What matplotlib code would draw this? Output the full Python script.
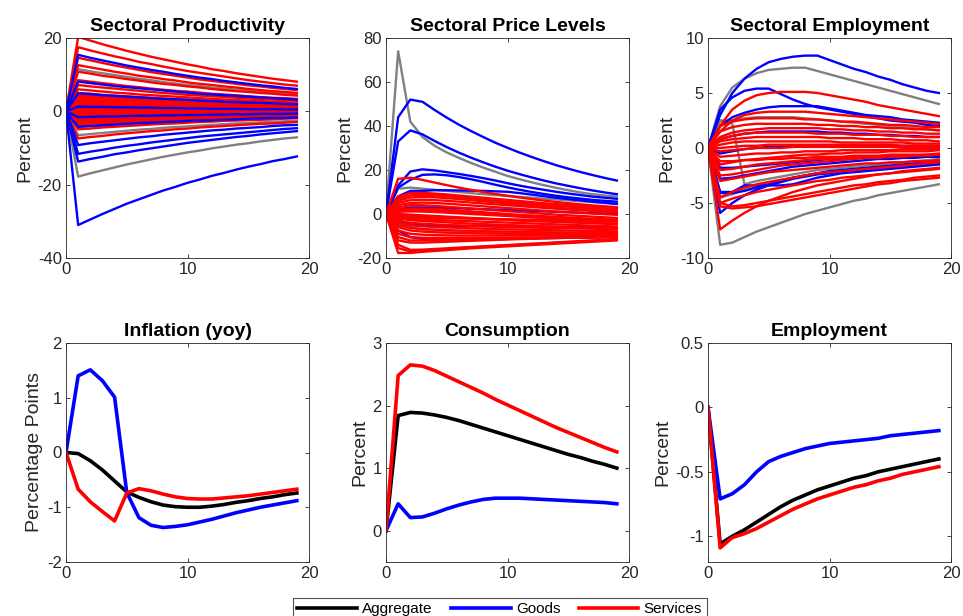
import numpy as np
import matplotlib
matplotlib.use("Agg")
import matplotlib.pyplot as plt
from matplotlib.ticker import FormatStrFormatter

plt.rcParams['font.family'] = ['Liberation Sans', 'DejaVu Sans']
plt.rcParams['axes.unicode_minus'] = False

# horizon (quarters after shock)
t = np.arange(20)

# ---------------- top row: sectoral responses ----------------
prod_gray = [
    [0, 11.5, 10.9, 10.4, 9.9, 9.4, 8.9, 8.5, 8.0, 7.6, 7.2, 6.9, 6.5, 6.2, 5.9, 5.6, 5.3, 5.1, 4.8, 4.6],
    [0, 3.0, 2.9, 2.7, 2.6, 2.4, 2.3, 2.2, 2.1, 2.0, 1.9, 1.8, 1.7, 1.6, 1.5, 1.5, 1.4, 1.3, 1.3, 1.2],
    [0, -6.5, -6.2, -5.9, -5.6, -5.3, -5.0, -4.8, -4.5, -4.3, -4.1, -3.9, -3.7, -3.5, -3.3, -3.2, -3.0, -2.9, -2.7, -2.6],
    [0, -17.8, -16.9, -16.1, -15.3, -14.5, -13.8, -13.1, -12.4, -11.8, -11.2, -10.7, -10.1, -9.6, -9.1, -8.7, -8.2, -7.8, -7.4, -7.1],
]
prod_goods = [
    [0, 15.4, 14.6, 13.9, 13.2, 12.5, 11.9, 11.3, 10.8, 10.2, 9.7, 9.2, 8.8, 8.3, 7.9, 7.5, 7.1, 6.8, 6.4, 6.1],
    [0, 8.1, 7.7, 7.3, 6.9, 6.6, 6.3, 6.0, 5.7, 5.4, 5.1, 4.8, 4.6, 4.4, 4.2, 4.0, 3.8, 3.6, 3.4, 3.2],
    [0, 4.9, 4.7, 4.4, 4.2, 4.0, 3.8, 3.6, 3.4, 3.3, 3.1, 2.9, 2.8, 2.6, 2.5, 2.4, 2.3, 2.2, 2.0, 1.9],
    [0, 1.3, 1.2, 1.2, 1.1, 1.1, 1.0, 1.0, 0.9, 0.9, 0.8, 0.8, 0.7, 0.7, 0.7, 0.6, 0.6, 0.6, 0.5, 0.5],
    [0, -1.6, -1.5, -1.4, -1.4, -1.3, -1.2, -1.2, -1.1, -1.1, -1.0, -1.0, -0.9, -0.9, -0.8, -0.8, -0.7, -0.7, -0.7, -0.6],
    [0, -4.2, -4.0, -3.8, -3.6, -3.4, -3.2, -3.1, -2.9, -2.8, -2.6, -2.5, -2.4, -2.3, -2.2, -2.0, -1.9, -1.8, -1.8, -1.7],
    [0, -9.2, -8.7, -8.3, -7.9, -7.5, -7.1, -6.8, -6.4, -6.1, -5.8, -5.5, -5.2, -5.0, -4.7, -4.5, -4.3, -4.0, -3.8, -3.7],
    [0, -11.6, -11.0, -10.5, -9.9, -9.4, -9.0, -8.5, -8.1, -7.7, -7.3, -6.9, -6.6, -6.3, -6.0, -5.7, -5.4, -5.1, -4.8, -4.6],
    [0, -13.7, -13.0, -12.4, -11.7, -11.2, -10.6, -10.1, -9.6, -9.1, -8.6, -8.2, -7.8, -7.4, -7.0, -6.7, -6.3, -6.0, -5.7, -5.4],
    [0, -31.0, -29.5, -28.0, -26.6, -25.2, -24.0, -22.8, -21.6, -20.6, -19.5, -18.6, -17.6, -16.8, -15.9, -15.1, -14.4, -13.6, -13.0, -12.3],
]
prod_services = [
    [0, 20.3, 19.3, 18.3, 17.4, 16.5, 15.7, 14.9, 14.2, 13.5, 12.8, 12.2, 11.5, 11.0, 10.4, 9.9, 9.4, 8.9, 8.5, 8.1],
    [0, 17.5, 16.6, 15.8, 15.0, 14.3, 13.5, 12.9, 12.2, 11.6, 11.0, 10.5, 10.0, 9.5, 9.0, 8.5, 8.1, 7.7, 7.3, 7.0],
    [0, 14.6, 13.9, 13.2, 12.5, 11.9, 11.3, 10.7, 10.2, 9.7, 9.2, 8.7, 8.3, 7.9, 7.5, 7.1, 6.8, 6.4, 6.1, 5.8],
    [0, 12.6, 12.0, 11.4, 10.8, 10.3, 9.7, 9.3, 8.8, 8.4, 7.9, 7.5, 7.2, 6.8, 6.5, 6.1, 5.8, 5.5, 5.3, 5.0],
    [0, 10.8, 10.3, 9.7, 9.3, 8.8, 8.4, 7.9, 7.5, 7.2, 6.8, 6.5, 6.1, 5.8, 5.5, 5.3, 5.0, 4.8, 4.5, 4.3],
    [0, 8.5, 8.1, 7.7, 7.3, 6.9, 6.6, 6.2, 5.9, 5.6, 5.4, 5.1, 4.8, 4.6, 4.4, 4.1, 3.9, 3.7, 3.6, 3.4],
    [0, 7.2, 6.8, 6.5, 6.2, 5.9, 5.6, 5.3, 5.0, 4.8, 4.5, 4.3, 4.1, 3.9, 3.7, 3.5, 3.3, 3.2, 3.0, 2.9],
    [0, 6.0, 5.7, 5.4, 5.1, 4.9, 4.6, 4.4, 4.2, 4.0, 3.8, 3.6, 3.4, 3.2, 3.1, 2.9, 2.8, 2.6, 2.5, 2.4],
    [0, 5.0, 4.8, 4.5, 4.3, 4.1, 3.9, 3.7, 3.5, 3.3, 3.2, 3.0, 2.8, 2.7, 2.6, 2.4, 2.3, 2.2, 2.1, 2.0],
    [0, 4.6, 4.4, 4.2, 3.9, 3.7, 3.6, 3.4, 3.2, 3.1, 2.9, 2.8, 2.6, 2.5, 2.4, 2.2, 2.1, 2.0, 1.9, 1.8],
    [0, 4.2, 4.0, 3.8, 3.6, 3.4, 3.2, 3.1, 2.9, 2.8, 2.6, 2.5, 2.4, 2.3, 2.2, 2.0, 1.9, 1.8, 1.8, 1.7],
    [0, 3.8, 3.6, 3.4, 3.3, 3.1, 2.9, 2.8, 2.7, 2.5, 2.4, 2.3, 2.2, 2.1, 2.0, 1.9, 1.8, 1.7, 1.6, 1.5],
    [0, 3.4, 3.2, 3.1, 2.9, 2.8, 2.6, 2.5, 2.4, 2.3, 2.1, 2.0, 1.9, 1.8, 1.7, 1.7, 1.6, 1.5, 1.4, 1.4],
    [0, 3.0, 2.9, 2.7, 2.6, 2.4, 2.3, 2.2, 2.1, 2.0, 1.9, 1.8, 1.7, 1.6, 1.5, 1.5, 1.4, 1.3, 1.3, 1.2],
    [0, 2.6, 2.5, 2.3, 2.2, 2.1, 2.0, 1.9, 1.8, 1.7, 1.6, 1.6, 1.5, 1.4, 1.3, 1.3, 1.2, 1.1, 1.1, 1.0],
    [0, 2.2, 2.1, 2.0, 1.9, 1.8, 1.7, 1.6, 1.5, 1.5, 1.4, 1.3, 1.3, 1.2, 1.1, 1.1, 1.0, 1.0, 0.9, 0.9],
    [0, 1.8, 1.7, 1.6, 1.5, 1.5, 1.4, 1.3, 1.3, 1.2, 1.1, 1.1, 1.0, 1.0, 0.9, 0.9, 0.8, 0.8, 0.8, 0.7],
    [0, 1.4, 1.3, 1.3, 1.2, 1.1, 1.1, 1.0, 1.0, 0.9, 0.9, 0.8, 0.8, 0.8, 0.7, 0.7, 0.6, 0.6, 0.6, 0.6],
    [0, 1.0, 1.0, 0.9, 0.9, 0.8, 0.8, 0.7, 0.7, 0.7, 0.6, 0.6, 0.6, 0.5, 0.5, 0.5, 0.5, 0.4, 0.4, 0.4],
    [0, 0.6, 0.6, 0.5, 0.5, 0.5, 0.5, 0.4, 0.4, 0.4, 0.4, 0.4, 0.3, 0.3, 0.3, 0.3, 0.3, 0.3, 0.3, 0.2],
    [0, 0.3, 0.3, 0.3, 0.3, 0.2, 0.2, 0.2, 0.2, 0.2, 0.2, 0.2, 0.2, 0.2, 0.2, 0.1, 0.1, 0.1, 0.1, 0.1],
    [0, -0.1, -0.1, -0.1, -0.1, -0.1, -0.1, -0.1, -0.1, -0.1, -0.1, -0.1, -0.1, -0.1, -0.1, -0.1, -0.1, -0.1, -0.1, -0.1],
    [0, -0.5, -0.5, -0.5, -0.4, -0.4, -0.4, -0.4, -0.3, -0.3, -0.3, -0.3, -0.3, -0.3, -0.3, -0.2, -0.2, -0.2, -0.2, -0.2],
    [0, -0.9, -0.9, -0.8, -0.8, -0.7, -0.7, -0.7, -0.6, -0.6, -0.6, -0.5, -0.5, -0.5, -0.5, -0.4, -0.4, -0.4, -0.4, -0.4],
    [0, -1.3, -1.2, -1.2, -1.1, -1.1, -1.0, -1.0, -0.9, -0.9, -0.8, -0.8, -0.7, -0.7, -0.7, -0.6, -0.6, -0.6, -0.5, -0.5],
    [0, -1.7, -1.6, -1.5, -1.5, -1.4, -1.3, -1.2, -1.2, -1.1, -1.1, -1.0, -1.0, -0.9, -0.9, -0.8, -0.8, -0.7, -0.7, -0.7],
    [0, -2.1, -2.0, -1.9, -1.8, -1.7, -1.6, -1.5, -1.5, -1.4, -1.3, -1.3, -1.2, -1.1, -1.1, -1.0, -1.0, -0.9, -0.9, -0.8],
    [0, -2.5, -2.4, -2.3, -2.1, -2.0, -1.9, -1.8, -1.7, -1.7, -1.6, -1.5, -1.4, -1.4, -1.3, -1.2, -1.2, -1.1, -1.0, -1.0],
    [0, -2.9, -2.8, -2.6, -2.5, -2.4, -2.2, -2.1, -2.0, -1.9, -1.8, -1.7, -1.6, -1.6, -1.5, -1.4, -1.3, -1.3, -1.2, -1.2],
    [0, -3.2, -3.0, -2.9, -2.7, -2.6, -2.5, -2.4, -2.2, -2.1, -2.0, -1.9, -1.8, -1.7, -1.6, -1.6, -1.5, -1.4, -1.3, -1.3],
    [0, -3.6, -3.4, -3.2, -3.1, -2.9, -2.8, -2.6, -2.5, -2.4, -2.3, -2.2, -2.0, -1.9, -1.8, -1.8, -1.7, -1.6, -1.5, -1.4],
    [0, -4.2, -4.0, -3.8, -3.6, -3.4, -3.2, -3.1, -2.9, -2.8, -2.6, -2.5, -2.4, -2.3, -2.2, -2.0, -1.9, -1.8, -1.8, -1.7],
    [0, -4.9, -4.7, -4.4, -4.2, -4.0, -3.8, -3.6, -3.4, -3.3, -3.1, -2.9, -2.8, -2.6, -2.5, -2.4, -2.3, -2.2, -2.0, -1.9],
    [0, -7.4, -7.0, -6.7, -6.3, -6.0, -5.7, -5.4, -5.2, -4.9, -4.7, -4.4, -4.2, -4.0, -3.8, -3.6, -3.4, -3.3, -3.1, -2.9],
]

price_gray = [
    [0, 74, 42, 35, 31, 28, 25.5, 23.2, 21.1, 19.2, 17.3, 15.8, 14.4, 13.1, 11.9, 10.8, 9.8, 9.0, 8.4, 7.9],
    [0, 11.5, 12, 11.5, 11, 10.5, 10, 9.5, 9, 8.6, 8.2, 7.8, 7.4, 7, 6.6, 6.2, 5.8, 5.4, 5, 4.6],
    [0, -4, -6, -7, -7.5, -7.8, -8, -8.1, -8.2, -8.3, -8.3, -8.4, -8.4, -8.4, -8.4, -8.4, -8.4, -8.4, -8.4, -8.4],
]
price_goods = [
    [0, 44, 52, 51, 47.3, 43.8, 40.6, 37.7, 35, 32.4, 30.1, 27.9, 25.9, 24, 22.2, 20.6, 19.1, 17.7, 16.4, 15.2],
    [0, 33, 38, 36.2, 33.2, 30.4, 27.9, 25.6, 23.5, 21.5, 19.7, 18.1, 16.6, 15.2, 13.9, 12.8, 11.7, 10.7, 9.8, 9.0],
    [0, 13, 19.3, 20.3, 19.8, 19, 18.2, 17.3, 16.3, 15.2, 14.0, 12.9, 11.9, 11.0, 10.1, 9.3, 8.6, 7.9, 7.4, 6.9],
    [0, 12, 15.5, 17.8, 18, 17.6, 16.8, 15.8, 14.6, 13.3, 12.1, 11.0, 10.0, 9.1, 8.3, 7.6, 7.0, 6.4, 6.0, 5.6],
    [0, 8, 10.5, 10.5, 10.8, 10.8, 10.7, 10.6, 10.5, 10.3, 10.1, 9.5, 8.8, 8.1, 7.4, 6.8, 6.2, 5.6, 5.1, 4.6],
    [0, 2, 3, 3, 3, 2.8, 2.6, 2.4, 2.2, 2, 1.8, 1.6, 1.4, 1.2, 1.0, 0.8, 0.6, 0.4, 0.2, 0.0],
    [0, -3, -4.5, -5, -5.2, -5.3, -5.4, -5.5, -5.5, -5.6, -5.6, -5.7, -5.7, -5.8, -5.8, -5.9, -5.9, -6, -6, -6],
    [0, -7.5, -10.5, -11.3, -11.6, -11.7, -11.7, -11.6, -11.5, -11.4, -11.3, -11.2, -11.1, -11.0, -10.9, -10.8, -10.7, -10.6, -10.5, -10.4],
]
price_services = [
    [0, 16, 16.5, 15.5, 14.3, 13.1, 12.0, 11.0, 10.0, 9.1, 8.3, 7.5, 6.8, 6.1, 5.5, 4.9, 4.4, 3.9, 3.5, 3.1],
    [0, 8, 9.5, 9.6, 9.3, 8.9, 8.4, 7.9, 7.4, 6.9, 6.4, 5.9, 5.4, 4.9, 4.5, 4.1, 3.7, 3.3, 2.9, 2.5],
    [0, 7, 8.5, 8.7, 8.5, 8.1, 7.6, 7.1, 6.6, 6.1, 5.6, 5.1, 4.6, 4.1, 3.7, 3.3, 2.9, 2.5, 2.1, 1.8],
    [0, 6, 7.5, 7.8, 7.6, 7.2, 6.8, 6.3, 5.8, 5.3, 4.8, 4.3, 3.8, 3.3, 2.9, 2.5, 2.1, 1.7, 1.3, 1.0],
    [0, 5, 6.3, 6.5, 6.3, 6.0, 5.6, 5.2, 4.8, 4.4, 4.0, 3.6, 3.2, 2.8, 2.4, 2.0, 1.7, 1.4, 1.1, 0.8],
    [0, 4, 5, 5.2, 5, 4.7, 4.3, 3.9, 3.5, 3.1, 2.7, 2.3, 1.9, 1.5, 1.1, 0.8, 0.5, 0.2, -0.1, -0.4],
    [0, 3, 4, 4, 3.7, 3.3, 2.9, 2.5, 2.1, 1.7, 1.3, 0.9, 0.5, 0.1, -0.3, -0.6, -0.9, -1.2, -1.5, -1.8],
    [0, 2, 2.5, 2.5, 2.3, 2.0, 1.6, 1.2, 0.8, 0.4, 0, -0.4, -0.7, -1.0, -1.3, -1.6, -1.9, -2.2, -2.4, -2.6],
    [0, 1.5, 2, 1.9, 1.6, 1.3, 0.9, 0.5, 0.1, -0.3, -0.7, -1.0, -1.3, -1.6, -1.9, -2.2, -2.4, -2.6, -2.8, -3.0],
    [0, 1, 1.2, 1.1, 0.9, 0.6, 0.3, 0, -0.3, -0.6, -0.9, -1.2, -1.5, -1.8, -2.1, -2.4, -2.7, -3.0, -3.2, -3.4],
    [0, 0, -0.3, -0.6, -0.9, -1.2, -1.5, -1.8, -2.1, -2.4, -2.7, -3.0, -3.2, -3.4, -3.6, -3.8, -4.0, -4.2, -4.4, -4.6],
    [0, -0.5, -0.9, -1.2, -1.4, -1.6, -1.8, -2.0, -2.2, -2.4, -2.6, -2.8, -3.0, -3.2, -3.4, -3.6, -3.8, -4.0, -4.2, -4.4],
    [0, -1, -1.5, -1.7, -1.8, -1.9, -2.0, -2.1, -2.2, -2.3, -2.4, -2.5, -2.6, -2.7, -2.8, -2.9, -3.0, -3.1, -3.2, -3.3],
    [0, -1.5, -2.2, -2.5, -2.7, -2.9, -3.1, -3.3, -3.5, -3.7, -3.9, -4.1, -4.3, -4.5, -4.7, -4.9, -5.1, -5.3, -5.5, -5.7],
    [0, -2, -2.8, -3.2, -3.5, -3.8, -4.1, -4.4, -4.6, -4.8, -5.0, -5.2, -5.4, -5.6, -5.8, -6.0, -6.1, -6.2, -6.3, -6.4],
    [0, -3, -4, -4.4, -4.7, -5, -5.2, -5.4, -5.6, -5.8, -6, -6.1, -6.2, -6.3, -6.4, -6.5, -6.6, -6.7, -6.8, -6.9],
    [0, -4, -5.2, -5.6, -5.9, -6.1, -6.3, -6.5, -6.7, -6.9, -7.0, -7.1, -7.2, -7.3, -7.4, -7.5, -7.6, -7.7, -7.8, -7.9],
    [0, -5, -6.4, -6.8, -7.1, -7.3, -7.5, -7.6, -7.8, -7.9, -8.0, -8.1, -8.2, -8.3, -8.4, -8.4, -8.5, -8.5, -8.6, -8.6],
    [0, -6, -7.5, -8, -8.3, -8.5, -8.6, -8.7, -8.8, -8.9, -9.0, -9.0, -9.1, -9.1, -9.2, -9.2, -9.2, -9.3, -9.3, -9.3],
    [0, -7.5, -9, -9.4, -9.6, -9.7, -9.8, -9.8, -9.8, -9.8, -9.8, -9.8, -9.8, -9.7, -9.7, -9.7, -9.6, -9.6, -9.6, -9.5],
    [0, -9, -10.5, -10.8, -10.9, -10.9, -10.9, -10.9, -10.9, -10.8, -10.8, -10.7, -10.7, -10.6, -10.6, -10.5, -10.5, -10.4, -10.4, -10.3],
    [0, -10.5, -12, -12, -11.9, -11.8, -11.7, -11.6, -11.5, -11.4, -11.3, -11.2, -11.1, -11.0, -10.9, -10.8, -10.7, -10.7, -10.6, -10.6],
    [0, -12, -13, -13, -12.8, -12.6, -12.4, -12.2, -12.0, -11.8, -11.6, -11.4, -11.2, -11.0, -10.9, -10.8, -10.7, -10.6, -10.5, -10.4],
    [0, -14, -16.3, -16.2, -15.9, -15.6, -15.3, -15.0, -14.7, -14.4, -14.1, -13.8, -13.5, -13.2, -12.9, -12.6, -12.3, -12.0, -11.7, -11.4],
    [0, -15.5, -17, -16.8, -16.4, -16.0, -15.6, -15.2, -14.9, -14.6, -14.3, -14.0, -13.7, -13.4, -13.1, -12.8, -12.5, -12.2, -12.0, -11.7],
    [0, -17.7, -17.7, -17.2, -16.8, -16.4, -16.0, -15.6, -15.3, -15.0, -14.7, -14.4, -14.1, -13.8, -13.5, -13.2, -12.9, -12.6, -12.3, -12.0],
]

emp_gray = [
    [0, 3.8, 5.5, 6.3, 6.8, 7.1, 7.2, 7.3, 7.3, 7.0, 6.7, 6.4, 6.1, 5.8, 5.5, 5.2, 4.9, 4.6, 4.3, 4.0],
    [0, 2.5, 2.5, 2.7, 2.8, 2.8, 2.8, 2.8, 2.7, 2.6, 2.5, 2.4, 2.3, 2.2, 2.1, 2.0, 1.9, 1.8, 1.7, 1.6],
    [0, 2.5, 2.2, -3.3, -3.0, -2.8, -2.6, -2.4, -2.2, -2.0, -1.9, -1.8, -1.7, -1.6, -1.5, -1.4, -1.3, -1.2, -1.1, -1.0],
    [0, -4.5, -4.2, -3.8, -3.4, -3.1, -2.9, -2.7, -2.5, -2.3, -2.2, -2.1, -2.0, -1.9, -1.8, -1.7, -1.6, -1.5, -1.4, -1.3],
    [0, -8.8, -8.6, -8.1, -7.6, -7.2, -6.8, -6.4, -6.0, -5.7, -5.4, -5.1, -4.8, -4.6, -4.3, -4.1, -3.9, -3.7, -3.5, -3.3],
]
emp_goods = [
    [0, 3.0, 5.0, 6.3, 7.2, 7.8, 8.1, 8.3, 8.4, 8.4, 8.0, 7.6, 7.2, 6.9, 6.5, 6.2, 5.8, 5.5, 5.2, 5.0],
    [0, 3.5, 4.6, 5.2, 5.4, 5.4, 4.9, 4.4, 4.0, 3.7, 3.5, 3.3, 3.1, 2.9, 2.7, 2.5, 2.4, 2.3, 2.1, 2.0],
    [0, 2, 2.8, 3.2, 3.5, 3.7, 3.8, 3.8, 3.8, 3.8, 3.6, 3.4, 3.2, 3.0, 2.9, 2.8, 2.6, 2.5, 2.4, 2.3],
    [0, 0.8, 1.1, 1.3, 1.4, 1.5, 1.5, 1.5, 1.5, 1.5, 1.4, 1.4, 1.3, 1.3, 1.2, 1.2, 1.1, 1.1, 1.0, 1.0],
    [0, -0.5, -0.3, -0.1, 0, 0.1, 0.1, 0.2, 0.2, 0.2, 0.2, 0.2, 0.2, 0.2, 0.2, 0.2, 0.2, 0.2, 0.2, 0.2],
    [0, -1.8, -1.8, -1.7, -1.6, -1.5, -1.4, -1.3, -1.2, -1.1, -1.0, -1.0, -0.9, -0.9, -0.8, -0.8, -0.7, -0.7, -0.7, -0.6],
    [0, -2.8, -2.7, -2.5, -2.3, -2.1, -1.9, -1.7, -1.6, -1.5, -1.4, -1.3, -1.2, -1.1, -1.0, -1.0, -0.9, -0.9, -0.8, -0.8],
    [0, -4.1, -4.1, -3.9, -3.6, -3.3, -3.0, -2.7, -2.5, -2.3, -2.1, -2.0, -1.9, -1.8, -1.7, -1.6, -1.5, -1.4, -1.3, -1.2],
    [0, -4.0, -4.0, -3.4, -3.4, -3.4, -3.4, -3.3, -3.0, -2.7, -2.5, -2.3, -2.2, -2.1, -2.0, -1.9, -1.8, -1.7, -1.6, -1.5],
    [0, -5.9, -5.0, -4.3, -3.8, -3.4, -3.1, -2.8, -2.6, -2.4, -2.3, -2.1, -2.0, -1.9, -1.8, -1.7, -1.6, -1.5, -1.5, -1.4],
]
emp_services = [
    [0, 2, 3.5, 4.3, 4.8, 5.0, 5.1, 5.1, 5.1, 5.0, 4.8, 4.6, 4.4, 4.2, 3.9, 3.7, 3.5, 3.3, 3.1, 2.9],
    [0, 1.5, 2.5, 3.0, 3.2, 3.3, 3.3, 3.3, 3.3, 3.2, 3.1, 3.0, 2.9, 2.8, 2.7, 2.6, 2.5, 2.4, 2.3, 2.2],
    [0, 2.0, 2.4, 2.6, 2.7, 2.7, 2.7, 2.7, 2.6, 2.6, 2.5, 2.4, 2.4, 2.3, 2.2, 2.1, 2.1, 2.0, 1.9, 1.9],
    [0, 1.5, 1.9, 2.1, 2.2, 2.2, 2.2, 2.2, 2.2, 2.1, 2.1, 2.0, 2.0, 1.9, 1.9, 1.8, 1.8, 1.7, 1.7, 1.6],
    [0, 1.0, 1.4, 1.6, 1.7, 1.8, 1.8, 1.8, 1.8, 1.8, 1.7, 1.7, 1.6, 1.6, 1.5, 1.5, 1.4, 1.4, 1.3, 1.3],
    [0, 0.8, 1.1, 1.3, 1.4, 1.4, 1.4, 1.4, 1.4, 1.3, 1.3, 1.3, 1.2, 1.2, 1.2, 1.1, 1.1, 1.0, 1.0, 1.0],
    [0, 0.6, 0.8, 0.9, 1.0, 1.0, 1.0, 1.0, 1.0, 1.0, 0.9, 0.9, 0.9, 0.8, 0.8, 0.8, 0.7, 0.7, 0.7, 0.6],
    [0, 0.3, 0.5, 0.6, 0.6, 0.6, 0.6, 0.6, 0.6, 0.6, 0.6, 0.5, 0.5, 0.5, 0.5, 0.5, 0.5, 0.4, 0.4, 0.4],
    [0, 0.0, 0.1, 0.2, 0.2, 0.3, 0.3, 0.3, 0.3, 0.3, 0.3, 0.3, 0.3, 0.3, 0.3, 0.3, 0.2, 0.2, 0.2, 0.2],
    [0, -0.3, -0.2, -0.1, 0.0, 0.0, 0.0, 0.1, 0.1, 0.1, 0.1, 0.1, 0.1, 0.1, 0.1, 0.1, 0.1, 0.1, 0.1, 0.1],
    [0, -0.8, -0.7, -0.6, -0.5, -0.5, -0.4, -0.4, -0.3, -0.3, -0.3, -0.2, -0.2, -0.2, -0.2, -0.2, -0.1, -0.1, -0.1, -0.1],
    [0, -1.2, -1.2, -1.1, -1.1, -1.0, -1.0, -0.9, -0.9, -0.8, -0.8, -0.8, -0.7, -0.7, -0.7, -0.6, -0.6, -0.6, -0.6, -0.5],
    [0, -1.5, -1.3, -1.1, -1.0, -0.9, -0.8, -0.7, -0.6, -0.6, -0.5, -0.5, -0.4, -0.4, -0.4, -0.3, -0.3, -0.3, -0.3, -0.2],
    [0, -2.0, -1.9, -1.7, -1.5, -1.4, -1.3, -1.2, -1.1, -1.0, -1.0, -0.9, -0.9, -0.8, -0.8, -0.7, -0.7, -0.7, -0.6, -0.6],
    [0, -2.5, -2.4, -2.2, -2.0, -1.8, -1.6, -1.5, -1.4, -1.3, -1.2, -1.1, -1.0, -0.9, -0.9, -0.8, -0.8, -0.7, -0.7, -0.6],
    [0, -3.0, -2.8, -2.6, -2.4, -2.2, -2.1, -2.0, -1.9, -1.8, -1.7, -1.6, -1.5, -1.4, -1.4, -1.3, -1.3, -1.2, -1.2, -1.1],
    [0, -4.5, -4.0, -3.6, -3.3, -3.1, -2.9, -2.7, -2.5, -2.3, -2.2, -2.1, -2.0, -1.9, -1.8, -1.7, -1.6, -1.5, -1.4, -1.3],
    [0, -5.0, -4.6, -4.3, -4.0, -3.8, -3.6, -3.4, -3.2, -3.0, -2.9, -2.7, -2.6, -2.5, -2.4, -2.3, -2.2, -2.1, -2.0, -1.9],
    [0, -5.0, -5.3, -5.2, -5.0, -4.8, -4.6, -4.4, -4.2, -4.0, -3.8, -3.6, -3.4, -3.3, -3.1, -3.0, -2.9, -2.7, -2.6, -2.5],
    [0, -5.3, -5.5, -5.4, -5.3, -5.1, -4.9, -4.7, -4.5, -4.3, -4.1, -3.9, -3.7, -3.5, -3.3, -3.2, -3.0, -2.9, -2.8, -2.7],
    [0, -7.4, -6.6, -5.9, -5.3, -4.8, -4.4, -4.0, -3.7, -3.4, -3.2, -3.0, -2.8, -2.6, -2.4, -2.3, -2.1, -2.0, -1.9, -1.8],
]

# ---------------- bottom row: aggregate / goods / services ----------------
infl_agg = [0, -0.02, -0.15, -0.32, -0.52, -0.72, -0.82, -0.90, -0.96, -0.99, -1.0, -1.0, -0.98, -0.95, -0.91, -0.88, -0.84, -0.81, -0.77, -0.74]
infl_goods = [0, 1.4, 1.51, 1.31, 1.01, -0.73, -1.19, -1.33, -1.37, -1.35, -1.32, -1.27, -1.22, -1.16, -1.10, -1.05, -1.0, -0.96, -0.92, -0.88]
infl_serv = [0, -0.67, -0.9, -1.08, -1.25, -0.74, -0.66, -0.70, -0.76, -0.81, -0.84, -0.85, -0.85, -0.83, -0.81, -0.79, -0.76, -0.73, -0.70, -0.67]

cons_agg = [0, 1.84, 1.89, 1.88, 1.85, 1.81, 1.76, 1.70, 1.64, 1.58, 1.52, 1.46, 1.40, 1.34, 1.28, 1.22, 1.17, 1.11, 1.06, 1.0]
cons_goods = [0, 0.43, 0.21, 0.22, 0.28, 0.35, 0.41, 0.46, 0.50, 0.52, 0.52, 0.52, 0.51, 0.50, 0.49, 0.48, 0.47, 0.46, 0.45, 0.43]
cons_serv = [0, 2.48, 2.65, 2.63, 2.56, 2.47, 2.38, 2.29, 2.20, 2.10, 2.01, 1.92, 1.83, 1.74, 1.65, 1.57, 1.49, 1.41, 1.33, 1.26]

empl_agg = [0, -1.06, -1.0, -0.95, -0.89, -0.83, -0.77, -0.72, -0.68, -0.64, -0.61, -0.58, -0.55, -0.53, -0.50, -0.48, -0.46, -0.44, -0.42, -0.40]
empl_goods = [0, -0.71, -0.67, -0.60, -0.50, -0.42, -0.38, -0.35, -0.32, -0.30, -0.28, -0.27, -0.26, -0.25, -0.24, -0.22, -0.21, -0.20, -0.19, -0.18]
empl_serv = [0, -1.09, -1.01, -0.98, -0.94, -0.89, -0.84, -0.79, -0.75, -0.71, -0.68, -0.65, -0.62, -0.60, -0.57, -0.55, -0.52, -0.50, -0.48, -0.46]

GRAY = (0.5, 0.5, 0.5)
BLUE = (0, 0, 1)
RED = (1, 0, 0)
AX = (0.15, 0.15, 0.15)

fig = plt.figure(figsize=(9.63, 6.16), dpi=100)

lefts = [66 / 963, 386 / 963, 708 / 963]
w = 243 / 963
top_b, top_h = 1 - 258 / 616, 220 / 616
bot_b, bot_h = 1 - 562 / 616, 219 / 616


def style(ax, title, ylabel, ylim, yticks):
    ax.set_xlim(0, 20)
    ax.set_xticks([0, 10, 20])
    ax.set_ylim(*ylim)
    ax.set_yticks(yticks)
    ax.xaxis.set_major_formatter(FormatStrFormatter('%g'))
    ax.yaxis.set_major_formatter(FormatStrFormatter('%g'))
    ax.set_title(title, fontsize=14, fontweight='bold', pad=5)
    ax.set_ylabel(ylabel, fontsize=14, color=AX, labelpad=3)
    ax.tick_params(direction='in', length=3, width=0.6, top=True, right=True,
                   labelsize=12, colors=AX, pad=3)
    for s in ax.spines.values():
        s.set_color(AX)
        s.set_linewidth(0.6)


def draw(ax, lines, color, lw=1.7):
    for y in lines:
        ax.plot(t, y, color=color, lw=lw)


ax1 = fig.add_axes([lefts[0], top_b, w, top_h])
draw(ax1, prod_gray, GRAY)
draw(ax1, prod_services, RED)
draw(ax1, prod_goods, BLUE)
style(ax1, 'Sectoral Productivity', 'Percent', (-40, 20), [-40, -20, 0, 20])

ax2 = fig.add_axes([lefts[1], top_b, w, top_h])
draw(ax2, price_gray, GRAY)
draw(ax2, price_goods, BLUE)
draw(ax2, price_services, RED)
style(ax2, 'Sectoral Price Levels', 'Percent', (-20, 80), [-20, 0, 20, 40, 60, 80])

ax3 = fig.add_axes([lefts[2], top_b, w, top_h])
draw(ax3, emp_gray, GRAY)
draw(ax3, emp_goods, BLUE)
draw(ax3, emp_services, RED)
style(ax3, 'Sectoral Employment', 'Percent', (-10, 10), [-10, -5, 0, 5, 10])

lw = 2.6
ax4 = fig.add_axes([lefts[0], bot_b, w, bot_h])
l1, = ax4.plot(t, infl_agg, color='k', lw=lw, label='Aggregate')
l2, = ax4.plot(t, infl_goods, color=BLUE, lw=lw, label='Goods')
l3, = ax4.plot(t, infl_serv, color=RED, lw=lw, label='Services')
style(ax4, 'Inflation (yoy)', 'Percentage Points', (-2, 2), [-2, -1, 0, 1, 2])

ax5 = fig.add_axes([lefts[1], bot_b, w, bot_h])
ax5.plot(t, cons_agg, color='k', lw=lw)
ax5.plot(t, cons_goods, color=BLUE, lw=lw)
ax5.plot(t, cons_serv, color=RED, lw=lw)
style(ax5, 'Consumption', 'Percent', (-0.5, 3), [0, 1, 2, 3])

ax6 = fig.add_axes([lefts[2], bot_b, w, bot_h])
ax6.plot(t, empl_agg, color='k', lw=lw)
ax6.plot(t, empl_goods, color=BLUE, lw=lw)
ax6.plot(t, empl_serv, color=RED, lw=lw)
style(ax6, 'Employment', 'Percent', (-1.2, 0.5), [-1, -0.5, 0, 0.5])

leg = fig.legend([l1, l2, l3], ['Aggregate', 'Goods', 'Services'],
                 loc='lower center', bbox_to_anchor=(0.519, -0.008), ncol=3,
                 fontsize=11, frameon=True, fancybox=False, edgecolor=AX,
                 handlelength=3.9, columnspacing=1.2, handletextpad=0.35,
                 borderpad=0.3, borderaxespad=0)
leg.get_frame().set_linewidth(0.8)

fig.savefig('out.png', dpi=100)
